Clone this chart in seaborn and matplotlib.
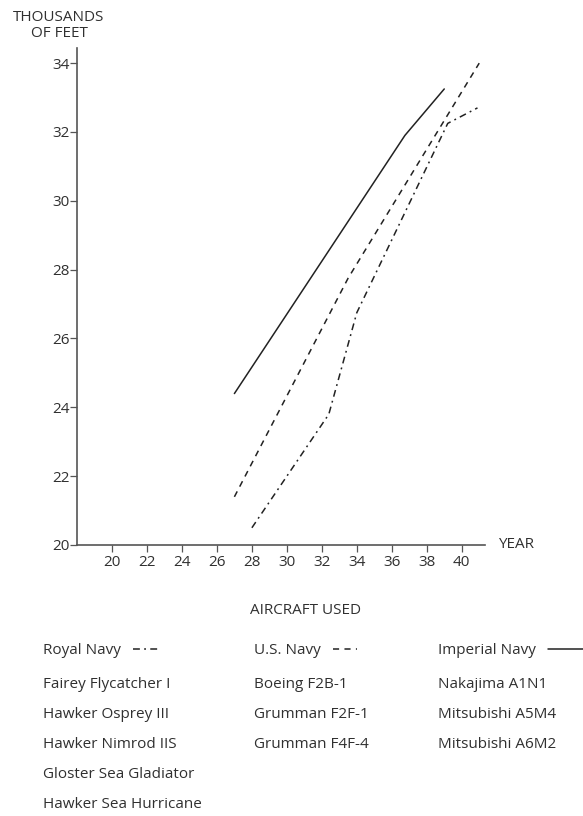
import numpy as np
import pandas as pd
import matplotlib
matplotlib.use('Agg')
import matplotlib.pyplot as plt
import seaborn as sns

# service ceiling (thousands of feet) against year in service
royal_year = [28, 32.4, 34, 39.2, 40.9]
royal_ceiling = [20.5, 23.8, 26.75, 32.25, 32.7]
us_year = [27, 33.5, 41]
us_ceiling = [21.4, 27.75, 34.0]
imperial_year = [27, 36.75, 39]
imperial_ceiling = [24.4, 31.9, 33.25]

navies = ['Royal Navy', 'U.S. Navy', 'Imperial Navy']
royal_aircraft = ['Fairey Flycatcher I', 'Hawker Osprey III', 'Hawker Nimrod IIS',
                  'Gloster Sea Gladiator', 'Hawker Sea Hurricane']
us_aircraft = ['Boeing F2B-1', 'Grumman F2F-1', 'Grumman F4F-4']
imperial_aircraft = ['Nakajima A1N1', 'Mitsubishi A5M4', 'Mitsubishi A6M2']

x_ticks = list(range(20, 41, 2))
y_ticks = list(range(20, 35, 2))

df = pd.concat([
    pd.DataFrame({'year': royal_year, 'ceiling': royal_ceiling, 'navy': navies[0]}),
    pd.DataFrame({'year': us_year, 'ceiling': us_ceiling, 'navy': navies[1]}),
    pd.DataFrame({'year': imperial_year, 'ceiling': imperial_ceiling, 'navy': navies[2]}),
], ignore_index=True)

sns.set_style('ticks')
plt.rcParams['font.family'] = ['Open Sans', 'DejaVu Sans']
plt.rcParams['font.size'] = 11

text_col = '#303030'
axis_col = '#555555'
W, H = 583, 816

fig = plt.figure(figsize=(5.83, 8.16), dpi=100)
ax = fig.add_axes([77 / W, 1 - 545 / H, 408 / W, 497 / H])

sns.lineplot(data=df, x='year', y='ceiling', hue='navy', style='navy',
             hue_order=navies, style_order=navies,
             palette=['#222222'] * 3,
             dashes={'Royal Navy': (4.5, 2.8, 1.2, 2.8), 'U.S. Navy': (4, 3.5), 'Imperial Navy': ''},
             linewidth=1.1, ax=ax, sort=False)

ax.set_xlim(18, 41.33)
ax.set_ylim(20, 34.44)
ax.set_xticks(x_ticks)
ax.set_yticks(y_ticks)
sns.despine(ax=ax)
for s in ['left', 'bottom']:
    ax.spines[s].set_color(axis_col)
    ax.spines[s].set_linewidth(1.2)
ax.tick_params(axis='both', colors=axis_col, labelcolor=text_col, labelsize=11,
               length=5, width=0.9)
ax.tick_params(axis='y', pad=0.5)
ax.tick_params(axis='x', pad=2)

ax.set_ylabel('THOUSANDS\nOF FEET', rotation=0, ha='center', va='center',
              color=text_col, fontsize=11, linespacing=1.1)
ax.yaxis.set_label_coords(-0.044, 1.046)
ax.set_xlabel('YEAR', ha='left', va='center', color=text_col, fontsize=11)
ax.xaxis.set_label_coords(1.032, 0)

fig.text(305 / W, 1 - 611 / H, 'AIRCRAFT USED', ha='center', va='center',
         color=text_col, fontsize=11)

# one small legend per navy column, line sample after the name
handles, labels = ax.get_legend_handles_labels()
ax.get_legend().remove()
col_x = [43, 254, 438]
col_handle_len = [1.7, 1.6, 2.4]
for h, lab, x0, hl in zip(handles, labels, col_x, col_handle_len):
    fig.legend([h], [lab], loc='center left', bbox_to_anchor=(x0 / W, 1 - 651 / H),
               frameon=False, markerfirst=False, borderpad=0, borderaxespad=0,
               handlelength=hl, handletextpad=0.8, fontsize=11, labelcolor=text_col)

cols = [(43, royal_aircraft), (254, us_aircraft), (438, imperial_aircraft)]
for x0, names in cols:
    for i, name in enumerate(names):
        fig.text(x0 / W, 1 - (684 + 30.25 * i) / H, name, ha='left', va='center',
                 color=text_col, fontsize=11)

fig.savefig('out.png', dpi=100, facecolor='white')
